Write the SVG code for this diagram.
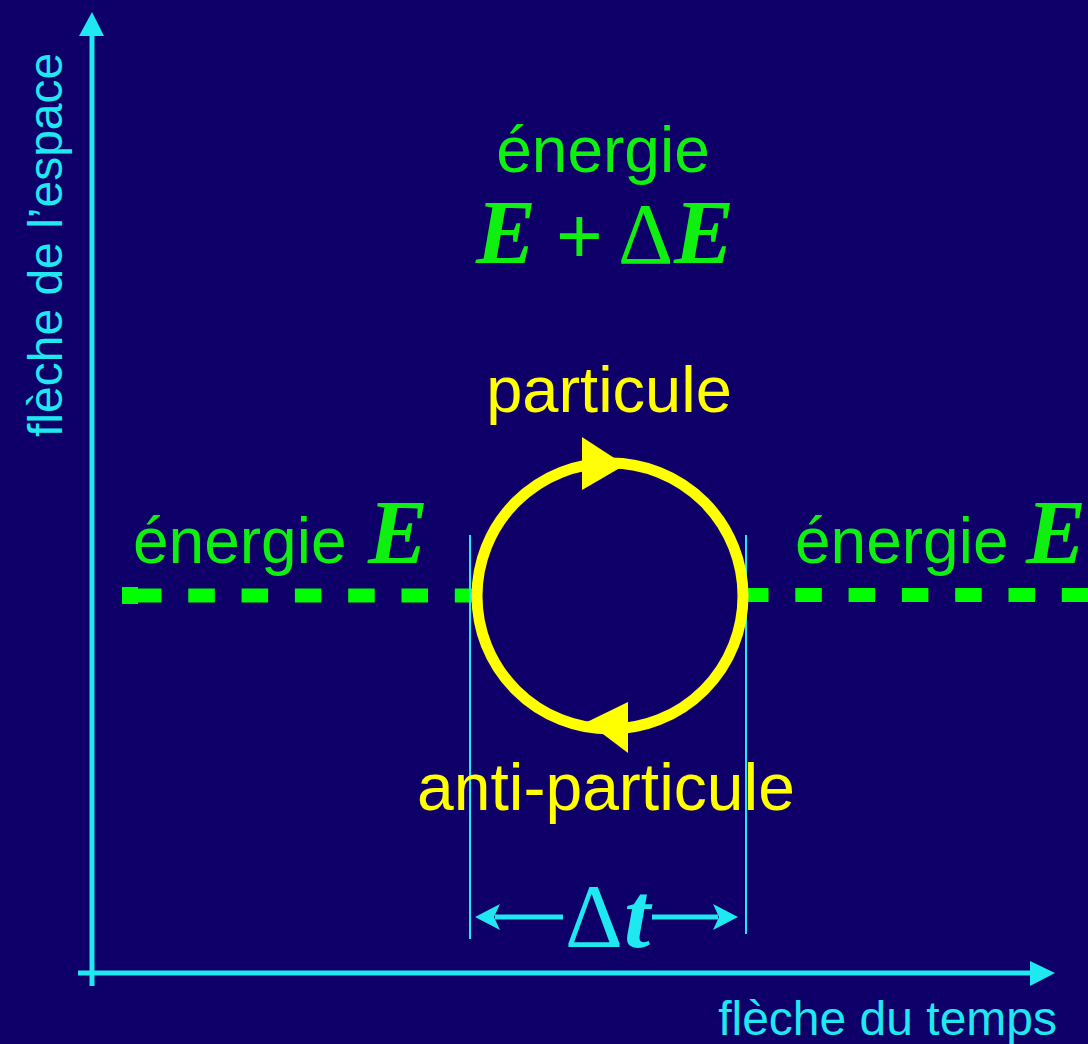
<svg xmlns="http://www.w3.org/2000/svg" width="1088" height="1044" viewBox="0 0 1088 1044">
<defs>
<style>
.sans{font-family:"Liberation Sans",Arial,Helvetica,sans-serif}
.serif{font-family:"Liberation Serif","Times New Roman",serif}
.cy{fill:#1fe8f0}
.gr{fill:#10f010}
.ye{fill:#ffff00}
.bi{font-weight:bold;font-style:italic}
</style>
</defs>
<rect width="1088" height="1044" fill="#0e0068"/>
<g id="connectors">
  <line x1="92" y1="30" x2="92" y2="986" stroke="#1fe8f0" stroke-width="5"/>
  <polygon points="92,12 104,36 79,36" fill="#1fe8f0"/>
  <line x1="78" y1="973" x2="1036" y2="973" stroke="#1fe8f0" stroke-width="5"/>
  <polygon points="1055,973 1030,961 1030,986" fill="#1fe8f0"/>
  <rect x="122" y="587" width="16" height="17" fill="#00ff00"/>
  <line x1="135" y1="595.5" x2="472" y2="595.5" stroke="#00ff00" stroke-width="14" stroke-dasharray="26.5 26.8"/>
  <line x1="742" y1="595" x2="1088" y2="595" stroke="#00ff00" stroke-width="14" stroke-dasharray="26.5 26.8"/>
  <line x1="470" y1="535" x2="470" y2="939" stroke="#1fe8f0" stroke-width="2"/>
  <line x1="746" y1="535" x2="746" y2="934" stroke="#1fe8f0" stroke-width="2"/>
  <line x1="495" y1="917" x2="563" y2="917" stroke="#1fe8f0" stroke-width="5"/>
  <polygon points="475,917 500,904 494,917 500,930" fill="#1fe8f0"/>
  <line x1="652" y1="917" x2="718" y2="917" stroke="#1fe8f0" stroke-width="5"/>
  <polygon points="738,917 713,904 719,917 713,930" fill="#1fe8f0"/>
</g>
<g id="loop">
  <circle cx="610" cy="596" r="133" fill="none" stroke="#ffff00" stroke-width="11"/>
  <polygon points="582,437 625,465 582,490" fill="#ffff00"/>
  <polygon points="628,702 587,722 628,753" fill="#ffff00"/>
</g>
<g id="label-espace">
  <text class="sans cy" font-size="48" transform="translate(62,437) rotate(-90)">flèche de l’espace</text>
</g>
<g id="label-temps">
  <text class="sans cy" font-size="48" x="1057" y="1035" text-anchor="end">flèche du temps</text>
</g>
<g id="label-top">
  <text class="sans gr" font-size="64" x="603" y="172" text-anchor="middle">énergie</text>
  <text class="gr" y="263"><tspan class="serif bi" font-size="90" x="476">E</tspan><tspan class="sans" font-size="80" x="556">+</tspan><tspan class="serif" font-size="86" x="618">Δ</tspan><tspan class="serif bi" font-size="90" x="674">E</tspan></text>
</g>
<g id="label-left">
  <text class="gr" y="563"><tspan class="sans" font-size="64" x="133">énergie</tspan><tspan class="serif bi" font-size="90" x="368">E</tspan></text>
</g>
<g id="label-right">
  <text class="gr" y="563"><tspan class="sans" font-size="64" x="795">énergie</tspan><tspan class="serif bi" font-size="90" x="1026">E</tspan></text>
</g>
<g id="label-particule">
  <text class="sans ye" font-size="65" x="609" y="412" text-anchor="middle">particule</text>
</g>
<g id="label-anti">
  <text class="sans ye" font-size="66" x="606" y="810" text-anchor="middle">anti-particule</text>
</g>
<g id="label-dt">
  <text class="cy" y="947"><tspan class="serif" font-size="90" x="565">Δ</tspan><tspan class="serif bi" font-size="94" x="624">t</tspan></text>
</g>
</svg>
